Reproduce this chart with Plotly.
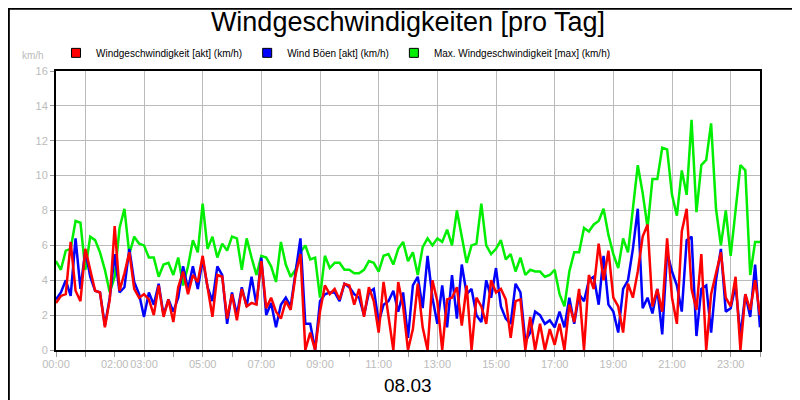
import plotly.graph_objects as go

# 10-minute samples, 00:00 .. 24:00 (145 values)
wind_akt = [
    2.7, 3.1, 3.2, 6.2, 3.4, 2.8, 5.8, 4.5, 3.4, 3.3, 1.3, 2.9,
    7.1, 3.4, 4.4, 5.6, 3.5, 3.0, 3.2, 2.9, 2.0, 3.7, 1.9, 2.9,
    1.6, 3.6, 4.5, 3.2, 4.3, 3.9, 5.4, 3.6, 1.9, 4.3, 4.2, 1.8,
    3.2, 1.7, 3.5, 2.5, 2.7, 2.6, 5.1, 2.4, 3.0, 2.2, 1.8, 2.8,
    2.3, 4.3, 5.5, 0.0, 1.0, 0.0, 2.2, 3.7, 3.2, 3.5, 2.9, 3.8,
    3.7, 2.6, 3.5, 1.9, 3.6, 2.8, 1.0, 3.9, 2.0, 0.0, 3.9, 2.5,
    0.0, 1.2, 3.8, 1.3, 0.0, 4.0, 2.8, 0.0, 2.9, 3.0, 3.6, 1.4,
    3.7, 0.0, 3.0, 2.5, 1.5, 4.0, 3.3, 3.5, 2.9, 0.7, 2.8, 2.9,
    0.0, 1.9, 0.0, 1.5, 0.0, 1.2, 0.3, 1.5, 0.0, 2.6, 1.6, 3.5,
    0.0, 4.3, 3.5, 6.1, 4.0, 5.7, 3.0, 2.5, 1.0, 3.8, 3.0, 4.5,
    6.5, 7.2, 2.5, 3.5, 2.2, 6.4, 3.0, 1.5, 6.8, 8.1, 3.5, 2.3,
    5.5, 0.0, 3.2, 4.5, 5.6, 3.0, 2.5, 4.2, 0.0, 3.2, 2.3, 4.0,
    2.0,
]
wind_boeen = [
    2.9, 3.3, 4.0, 3.1, 6.4, 3.5, 5.7, 4.2, 3.4, 3.3, 1.4, 3.0,
    5.5, 3.3, 3.6, 5.8, 3.9, 3.2, 1.9, 3.3, 2.6, 3.8, 2.0, 2.9,
    2.2, 3.0, 4.8, 3.5, 4.8, 3.5, 5.2, 3.6, 2.8, 4.8, 4.3, 1.5,
    3.3, 2.0, 3.6, 2.5, 4.2, 2.6, 5.3, 2.0, 2.7, 1.3, 2.6, 3.0,
    2.5, 4.5, 6.4, 1.5, 1.5, 0.0, 2.8, 3.2, 3.3, 3.3, 2.8, 3.8,
    3.6, 3.2, 3.0, 2.0, 3.3, 3.5, 1.6, 2.6, 2.8, 3.4, 2.2, 3.3,
    0.7, 3.7, 4.2, 2.4, 5.4, 3.0, 1.5, 3.7, 1.3, 4.3, 1.8, 4.9,
    3.2, 3.5, 2.0, 1.6, 4.0, 3.0, 4.7, 2.5, 1.8, 1.5, 3.8, 3.3,
    0.5, 1.0, 2.2, 2.0, 1.5, 1.7, 1.3, 2.2, 1.3, 3.0, 1.5, 3.2,
    2.8, 4.0, 4.2, 2.6, 5.4, 2.6, 2.2, 1.0, 3.5, 4.0, 5.8, 8.1,
    2.4, 3.0, 2.1, 3.5, 0.9, 5.6, 4.5, 3.7, 2.2, 6.3, 6.5, 0.8,
    3.5, 3.7, 1.0, 4.0, 5.8, 2.2, 2.4, 3.7, 0.8, 3.2, 1.9, 4.9,
    1.3,
]
wind_max = [
    5.1, 4.6, 5.7, 5.8, 7.4, 7.3, 4.6, 6.5, 6.3, 5.6, 4.6, 3.3,
    4.2, 7.0, 8.1, 5.5, 6.5, 6.1, 6.0, 5.3, 5.3, 4.2, 4.9, 5.0,
    4.3, 5.3, 3.7, 4.8, 6.3, 5.6, 8.4, 5.8, 6.5, 5.3, 6.1, 5.7,
    6.5, 6.4, 4.6, 6.4, 5.3, 4.3, 5.4, 5.3, 4.8, 3.9, 6.2, 4.9,
    4.2, 4.6, 5.6, 6.0, 5.2, 5.3, 3.0, 5.4, 4.7, 5.0, 5.0, 4.6,
    4.6, 4.4, 4.4, 4.6, 5.1, 5.0, 4.5, 5.4, 5.5, 4.9, 5.8, 6.2,
    5.1, 5.6, 4.3, 5.9, 6.4, 6.0, 6.4, 6.2, 6.9, 6.0, 8.0, 6.4,
    5.0, 6.0, 6.1, 8.4, 6.0, 5.5, 5.8, 6.3, 5.2, 5.5, 4.5, 5.3,
    4.3, 4.6, 4.5, 4.5, 4.2, 4.3, 4.6, 3.2, 2.5, 4.5, 5.6, 5.6,
    7.0, 6.8, 7.2, 7.4, 8.1, 6.6, 5.5, 4.7, 6.4, 5.6, 8.1, 10.6,
    9.0, 7.0, 9.8, 9.8, 11.6, 11.5, 8.9, 7.7, 10.3, 8.9, 13.2, 7.9,
    10.6, 10.9, 13.0, 8.1, 6.0, 8.0, 5.4, 8.0, 10.6, 10.3, 4.3, 6.2,
    6.2,
]
hours = [i / 6 for i in range(len(wind_max))]
label_hours = [0, 2, 3, 5, 7, 9, 11, 13, 15, 17, 19, 21, 23]
label_text = ["%02d:00" % h for h in label_hours]

series = [
    ("Max. Windgeschwindigkeit [max] (km/h)", wind_max, "#00ee00"),
    ("Wind Böen [akt] (km/h)", wind_boeen, "#0000ff"),
    ("Windgeschwindigkeit [akt] (km/h)", wind_akt, "#ff0000"),
]

fig = go.Figure()
for name, vals, col in series:
    fig.add_trace(go.Scatter(x=hours, y=vals, mode="lines", line=dict(color=col, width=2.5),
                             showlegend=False, hoverinfo="skip"))
# legend swatches (squares)
for name, vals, col in reversed(series):
    fig.add_trace(go.Scatter(x=[None], y=[None], mode="markers", name=name,
                             marker=dict(symbol="square", size=9, color=col,
                                         line=dict(color="black", width=1))))
fig.add_trace(go.Scatter(x=[None], y=[None], xaxis="x2", showlegend=False))

axis_font = dict(family="Arial, Liberation Sans", size=11, color="#bbbbbb")
fig.update_layout(
    width=800, height=400,
    margin=dict(l=48, r=48, t=63, b=58, autoexpand=False),
    paper_bgcolor="white", plot_bgcolor="white",
    title=dict(text="Windgeschwindigkeiten [pro Tag]", x=0.5, xanchor="center", y=0.99, yanchor="top",
               font=dict(family="Arial, Liberation Sans", size=27, color="black")),
    legend=dict(orientation="h", x=0.0, y=1.065, xanchor="left", yanchor="middle",
                font=dict(family="Arial, Liberation Sans", size=10, color="black"),
                itemwidth=30, traceorder="normal", bgcolor="rgba(0,0,0,0)"),
    xaxis=dict(range=[0, 24], tickvals=list(range(1, 24, 2)), showticklabels=False,
               showgrid=True, gridcolor="#bbbbbb", gridwidth=1, zeroline=False,
               showline=True, linecolor="black", linewidth=2, mirror=True,
               ticks="outside", ticklen=5, tickcolor="#999999",
               minor=dict(dtick=1, ticks="outside", ticklen=5, tickcolor="#999999", showgrid=False)),
    xaxis2=dict(overlaying="x", range=[0, 24], side="bottom", tickvals=label_hours, ticktext=label_text,
                showgrid=False, zeroline=False, tickfont=axis_font, ticks="", tickangle=0,
                ticklabelstandoff=6),
    yaxis=dict(range=[0, 16], dtick=2, showgrid=True, gridcolor="#bbbbbb", zeroline=False,
               showline=True, linecolor="black", linewidth=2, mirror=True,
               ticks="outside", ticklen=4, tickcolor="#999999", tickfont=axis_font),
)
fig.add_annotation(text="km/h", xref="paper", yref="paper", x=-0.033, y=1.054, showarrow=False,
                   xanchor="center", yanchor="middle",
                   font=dict(family="Arial, Liberation Sans", size=10, color="#bbbbbb"))
fig.add_annotation(text="08.03", xref="paper", yref="paper", x=0.5, y=-0.129, showarrow=False,
                   yanchor="middle", font=dict(family="Arial, Liberation Sans", size=19, color="black"))
fig.add_shape(type="rect", xref="paper", yref="paper", x0=-0.067, x1=1.067, y0=-0.206, y1=1.223,
              line=dict(color="black", width=2))
fig.write_html("out.html")
